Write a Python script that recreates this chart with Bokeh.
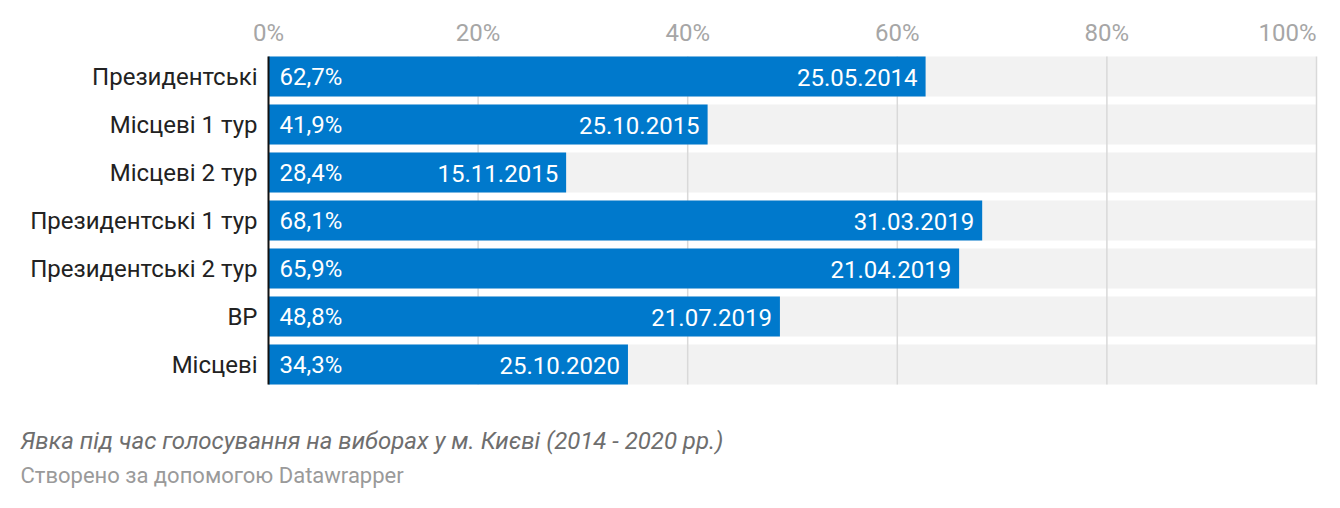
from bokeh.plotting import figure
from bokeh.models import Range1d, Label, ColumnDataSource
from bokeh.core.properties import value
from bokeh.embed import file_html
from bokeh.resources import INLINE

categories = ["Президентські", "Місцеві 1 тур", "Місцеві 2 тур", "Президентські 1 тур",
              "Президентські 2 тур", "ВР", "Місцеві"]
turnout = [62.7, 41.9, 28.4, 68.1, 65.9, 48.8, 34.3]
dates = ["25.05.2014", "25.10.2015", "15.11.2015", "31.03.2019", "21.04.2019",
         "21.07.2019", "25.10.2020"]
ticks = [0, 20, 40, 60, 80, 100]
tick_labels = ["0%", "20%", "40%", "60%", "80%", "100%"]
title_text = "Явка під час голосування на виборах у м. Києві (2014 - 2020 рр.)"
credit_text = "Створено за допомогою Datawrapper"

W, H = 1324, 492
x0_px, px_per_unit = 268, 10.48
row0_px, row_px = 76, 48

FONT = value("Roboto")
n = len(categories)
idx = list(range(n))
value_labels = [f"{v:.1f}".replace(".", ",") + "%" for v in turnout]

src = ColumnDataSource(dict(y=idx, v=turnout, cat=categories, vl=value_labels,
                            d=dates, zero=[0] * n, full=[100] * n))

p = figure(width=W, height=H, output_backend="svg", toolbar_location=None,
           x_range=Range1d(-x0_px / px_per_unit, (W - x0_px) / px_per_unit),
           y_range=Range1d((H - row0_px) / row_px, -row0_px / row_px),
           min_border=0, outline_line_color=None)
p.axis.visible = False
p.grid.visible = False
p.background_fill_color = "white"

bh = 40 / row_px
# background bars
p.hbar(y="y", left="zero", right="full", height=bh, source=src,
       fill_color="#f2f2f2", line_color=None)
# gridlines
top = -bh / 2
bottom = n - 1 + bh / 2
grid_x = ticks[1:]
p.segment(x0=grid_x, y0=[top] * len(grid_x), x1=grid_x, y1=[bottom] * len(grid_x),
          line_color="#d9d9d9", line_width=1.5)
# bars
p.hbar(y="y", left="zero", right="v", height=bh, source=src,
       fill_color="#0079cc", line_color=None)
# axis line
p.segment(x0=[0], y0=[top], x1=[0], y1=[bottom], line_color="#111111", line_width=2)

# category labels
p.text(x="zero", y="y", text="cat", source=src, x_offset=-11, text_align="right",
       text_baseline="middle", text_font=FONT, text_font_size="24px", text_color="#222222")
# value labels
p.text(x="zero", y="y", text="vl", source=src, x_offset=11, text_align="left",
       text_baseline="middle", text_font=FONT, text_font_size="24px", text_color="white")
# date labels
p.text(x="v", y="y", text="d", source=src, x_offset=-8, text_align="right",
       text_baseline="middle", y_offset=1, text_font=FONT, text_font_size="24px",
       text_color="white")

# tick labels
tick_y = (32 - row0_px) / row_px
p.text(x=ticks[:-1], y=[tick_y] * (len(ticks) - 1), text=tick_labels[:-1],
       text_align="center", text_baseline="middle", text_font=FONT,
       text_font_size="24px", text_color="#a6a6a6")
p.text(x=ticks[-1:], y=[tick_y], text=tick_labels[-1:],
       text_align="right", text_baseline="middle", text_font=FONT,
       text_font_size="24px", text_color="#a6a6a6")

p.add_layout(Label(x=20, y=H - 440, x_units="screen", y_units="screen", text=title_text,
                   text_font="Roboto", text_font_size="24px", text_font_style="italic",
                   text_color="#6e6e6e", text_baseline="middle"))
p.add_layout(Label(x=20, y=H - 475, x_units="screen", y_units="screen", text=credit_text,
                   text_font="Roboto", text_font_size="22px",
                   text_color="#9a9a9a", text_baseline="middle"))

open("out.html", "w").write(file_html(p, INLINE))
